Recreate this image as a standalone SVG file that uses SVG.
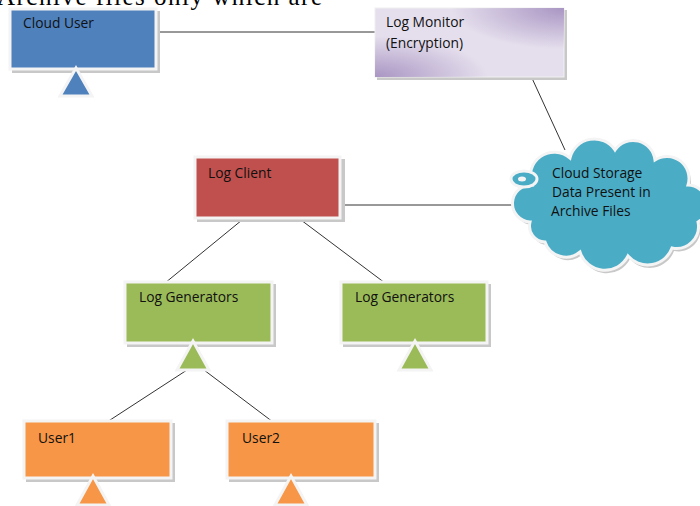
<svg xmlns="http://www.w3.org/2000/svg" width="700" height="506" viewBox="0 0 700 506">
<style>
.lbl{font-family:"Open Sans","Liberation Sans",sans-serif;font-size:13.8px;fill:#111}
.box{stroke:#f4f4f4;stroke-width:3}
.sh{fill:#c8c8c8}
.tri{stroke:#f4f4f4;stroke-width:3;stroke-linejoin:miter}
.conn line{stroke:#333;stroke-width:1}
</style>
<defs>
<radialGradient id="pTR" cx="1" cy="0" r="0.6">
<stop offset="0" stop-color="#a995c3" stop-opacity="1"/>
<stop offset="1" stop-color="#a995c3" stop-opacity="0"/>
</radialGradient>
<radialGradient id="pBL" cx="0" cy="1" r="0.6">
<stop offset="0" stop-color="#a995c3" stop-opacity="1"/>
<stop offset="1" stop-color="#a995c3" stop-opacity="0"/>
</radialGradient>
<path id="cl" d="M530,222 A18,18 0 0 1 532,185 A24,24 0 0 1 570,158 A25,25 0 0 1 615,150 A22,22 0 0 1 655,160 A22,22 0 0 1 688,185 A20,20 0 0 1 698,222 A22,22 0 0 1 672,248 A26,26 0 0 1 628,256 A26,26 0 0 1 580,252 A22,22 0 0 1 545,242 A16,16 0 0 1 530,222 Z"/>
</defs>
<text x="-3" y="5" font-family="Liberation Serif,serif" font-size="25" textLength="325" fill="#000">Archive files only which are</text>
<g class="conn">
<line x1="157" y1="32" x2="376" y2="32"/>
<line x1="531" y1="76" x2="565" y2="150"/>
<line x1="341" y1="205" x2="524" y2="205"/>
<line x1="242" y1="220" x2="165" y2="283"/>
<line x1="301" y1="220" x2="385" y2="283"/>
<line x1="187" y1="370" x2="107" y2="422"/>
<line x1="204" y1="370" x2="273" y2="422"/>
</g>
<g id="cloud-user">
<rect class="sh" x="12" y="11" width="148" height="62"/>
<rect class="box" x="10" y="9" width="146" height="60" fill="#4f81bd"/>
<polygon class="tri" points="76,68 92,96 60,96" fill="#4f81bd"/>
<text class="lbl" x="23" y="28">Cloud User</text>
</g>
<g id="log-monitor">
<rect class="sh" x="377" y="10" width="190" height="70"/>
<rect x="375" y="8" width="189" height="69" fill="#e5dfed" stroke="#f0f0f0" stroke-width="1"/>
<rect x="375" y="8" width="189" height="69" fill="url(#pTR)"/>
<rect x="375" y="8" width="189" height="69" fill="url(#pBL)"/>
<text class="lbl" x="386" y="27">Log Monitor</text>
<text class="lbl" x="386" y="48">(Encryption)</text>
</g>
<g id="cloud-storage">
<use href="#cl" fill="#c8c8c8" transform="translate(2,3)"/>
<use href="#cl" fill="#4bacc6" stroke="#f4f4f4" stroke-width="3"/>
<ellipse cx="524" cy="179" rx="13" ry="8" fill="#4bacc6" stroke="#f4f4f4" stroke-width="3"/>
<ellipse cx="522" cy="179" rx="4" ry="2.5" fill="#f4f4f4"/>
<text class="lbl" x="552" y="178">Cloud Storage</text>
<text class="lbl" x="552" y="197">Data Present in</text>
<text class="lbl" x="551" y="216">Archive Files</text>
</g>
<g id="log-client">
<rect class="sh" x="197" y="159" width="148" height="63"/>
<rect class="box" x="195" y="157" width="145" height="61" fill="#c0504d"/>
<text class="lbl" x="208" y="178">Log Client</text>
</g>
<g id="log-gen-1">
<rect class="sh" x="127" y="284" width="149" height="63"/>
<rect class="box" x="125" y="282" width="147" height="61" fill="#9bbb59"/>
<polygon class="tri" points="193,341 209,370 177,370" fill="#9bbb59"/>
<text class="lbl" x="139" y="302">Log Generators</text>
</g>
<g id="log-gen-2">
<rect class="sh" x="343" y="284" width="148" height="63"/>
<rect class="box" x="341" y="282" width="146" height="61" fill="#9bbb59"/>
<polygon class="tri" points="415,341 431,370 399,370" fill="#9bbb59"/>
<text class="lbl" x="355" y="302">Log Generators</text>
</g>
<g id="user1">
<rect class="sh" x="26" y="423" width="149" height="59"/>
<rect class="box" x="24" y="421" width="147" height="57" fill="#f79646"/>
<polygon class="tri" points="93,476 109,505 77,505" fill="#f79646"/>
<text class="lbl" x="38" y="443">User1</text>
</g>
<g id="user2">
<rect class="sh" x="229" y="423" width="150" height="59"/>
<rect class="box" x="227" y="421" width="148" height="57" fill="#f79646"/>
<polygon class="tri" points="291,476 307,505 275,505" fill="#f79646"/>
<text class="lbl" x="242" y="443">User2</text>
</g>
</svg>
